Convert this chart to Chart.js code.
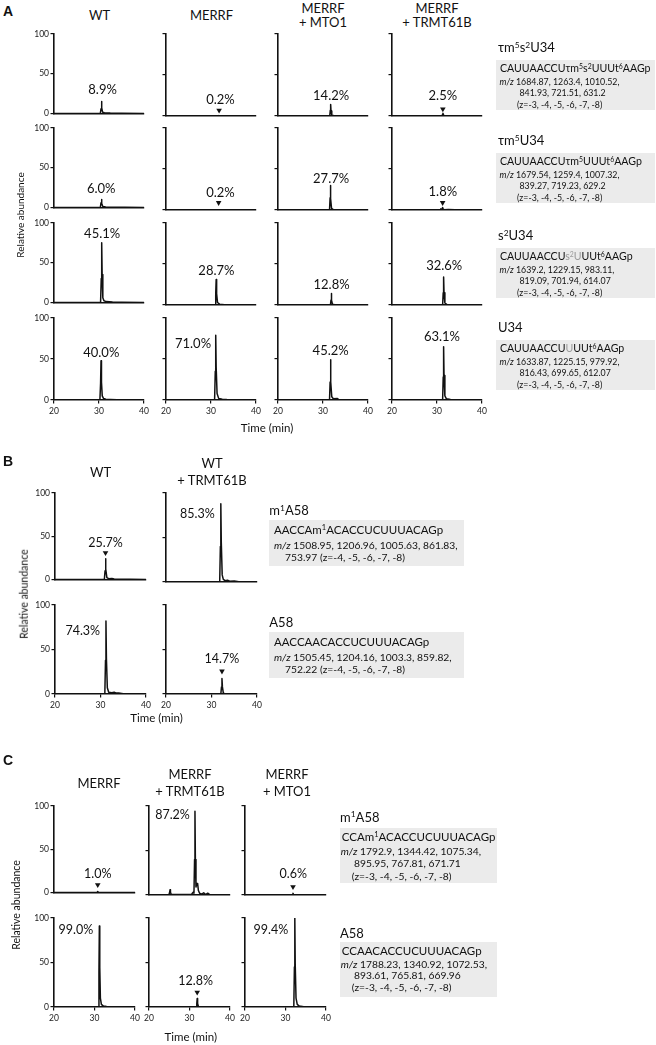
<!DOCTYPE html>
<html><head><meta charset="utf-8">
<script src="https://cdn.jsdelivr.net/npm/chart.js@4.4.1/dist/chart.umd.min.js"></script>
<style>
html,body{margin:0;padding:0;background:#fff;}
body{width:656px;height:1045px;position:relative;overflow:hidden;font-family:Lato,'Open Sans',sans-serif;color:#111;}
.t{position:absolute;white-space:nowrap;line-height:1;}
.box{position:absolute;background:#ebebeb;}
.s{font-size:65%;position:relative;top:-0.5em;}
.g{color:#9a9a9a;}
canvas{position:absolute;}
</style></head><body>
<script>
// ---------- shared axis values ----------
const timeTicks = [20, 30, 40];
const abundanceTicks = [0, 50, 100];

// ---------- Panel A data (time min, relative abundance) ----------
const A_columns = [['WT'], ['MERRF'], ['MERRF', '+ MTO1'], ['MERRF', '+ TRMT61B']];
const A_species = ['τm<span class="s">5</span>s<span class="s">2</span>U34', 'τm<span class="s">5</span>U34', 's<span class="s">2</span>U34', 'U34'];
const A_sequences = [
  'CAUUAACCUτm<span class="s">5</span>s<span class="s">2</span>UUUt<span class="s">6</span>AAGp',
  'CAUUAACCUτm<span class="s">5</span>UUUt<span class="s">6</span>AAGp',
  'CAUUAACCU<span class="g">s<span class="s">2</span>U</span>UUt<span class="s">6</span>AAGp',
  'CAUUAACCU<span class="g">U</span>UUt<span class="s">6</span>AAGp'
];
const A_mz = [
  ['1684.87, 1263.4, 1010.52,', '841.93, 721.51, 631.2', '(z=-3, -4, -5, -6, -7, -8)'],
  ['1679.54, 1259.4, 1007.32,', '839.27, 719.23, 629.2', '(z=-3, -4, -5, -6, -7, -8)'],
  ['1639.2, 1229.15, 983.11,', '819.09, 701.94, 614.07', '(z=-3, -4, -5, -6, -7, -8)'],
  ['1633.87, 1225.15, 979.92,', '816.43, 699.65, 612.07', '(z=-3, -4, -5, -6, -7, -8)']
];
const A_percent = [
  ['8.9%', '0.2%', '14.2%', '2.5%'],
  ['6.0%', '0.2%', '27.7%', '1.8%'],
  ['45.1%', '28.7%', '12.8%', '32.6%'],
  ['40.0%', '71.0%', '45.2%', '63.1%']
];
const a_tm5s2U34_WT = [[20,0],[30.3,0],[30.45,6],[30.55,15],[30.65,7],[30.8,1.5],[31.2,0.8],[32.5,0.4],[35,0.3],[40,0]];
const a_tm5s2U34_MERRF = [[20,0],[31.5,0],[31.7,0.5],[31.9,0],[40,0]];
const a_tm5s2U34_MTO1 = [[20,0],[31.5,0],[31.62,7],[31.7,14],[31.78,6],[31.95,1],[32.5,0.4],[40,0]];
const a_tm5s2U34_TRMT61B = [[20,0],[31.1,0],[31.25,2],[31.32,3.5],[31.42,1.5],[31.6,0.3],[40,0]];
const a_tm5U34_WT = [[20,0],[30.3,0],[30.45,6],[30.55,10],[30.65,5],[30.85,1],[31.5,0.5],[40,0]];
const a_tm5U34_MERRF = [[20,0],[31.5,0],[31.7,0.4],[31.9,0],[40,0]];
const a_tm5U34_MTO1 = [[20,0],[31.45,0],[31.58,15],[31.65,30],[31.72,14],[31.9,2],[32.3,0.6],[40,0]];
const a_tm5U34_TRMT61B = [[20,0],[30.7,0],[30.85,1.5],[30.95,0.5],[31.1,1],[31.25,3],[31.38,1],[31.6,0.3],[32.5,0.5],[34,0.2],[40,0]];
const a_s2U34_WT = [[20,0],[30.35,0],[30.5,30],[30.6,75],[30.7,35],[30.85,6],[31.1,2],[31.6,1],[33,0.5],[35,0.3],[40,0]];
const a_s2U34_MERRF = [[20,0],[30.9,0],[31.05,14],[31.15,31],[31.25,14],[31.45,3],[31.9,1],[33,0.4],[40,0]];
const a_s2U34_MTO1 = [[20,0],[31.65,0],[31.78,6],[31.85,14],[31.93,6],[32.1,1],[32.6,0.3],[40,0]];
const a_s2U34_TRMT61B = [[20,0],[31.25,0],[31.38,15],[31.47,34],[31.56,15],[31.75,2.5],[32.2,0.6],[40,0]];
const a_U34_WT = [[20,0],[30.2,0],[30.35,20],[30.45,48],[30.55,22],[30.72,5],[31,2],[31.5,1],[32.5,0.7],[34,0.4],[40,0]];
const a_U34_MERRF = [[20,0],[30.8,0],[30.95,35],[31.05,79],[31.15,40],[31.35,8],[31.7,2],[32.5,1],[33.5,0.5],[40,0]];
const a_U34_MTO1 = [[20,0],[31.45,0],[31.58,22],[31.67,49],[31.76,22],[31.95,4],[32.3,1.5],[33.2,1.8],[33.5,0.5],[40,0]];
const a_U34_TRMT61B = [[20,0],[31.25,0],[31.38,28],[31.47,65],[31.56,30],[31.75,5],[32.1,1.5],[33,0.6],[40,0]];
const A_traces = [
  [a_tm5s2U34_WT, a_tm5s2U34_MERRF, a_tm5s2U34_MTO1, a_tm5s2U34_TRMT61B],
  [a_tm5U34_WT, a_tm5U34_MERRF, a_tm5U34_MTO1, a_tm5U34_TRMT61B],
  [a_s2U34_WT, a_s2U34_MERRF, a_s2U34_MTO1, a_s2U34_TRMT61B],
  [a_U34_WT, a_U34_MERRF, a_U34_MTO1, a_U34_TRMT61B]
];
// marked (arrowhead) peaks: [row, col, time, abundance]
const A_marked = [[0,1,31.8,3],[0,3,31.3,4.5],[1,1,31.7,5],[1,3,31.25,5]];

// ---------- Panel B data ----------
const B_columns = [['WT'], ['WT', '+ TRMT61B']];
const B_species = ['m<span class="s">1</span>A58', 'A58'];
const B_sequences = ['AACCAm<span class="s">1</span>ACACCUCUUUACAGp', 'AACCAACACCUCUUUACAGp'];
const B_mz = [
  ['1508.95, 1206.96, 1005.63, 861.83,', '753.97 (z=-4, -5, -6, -7, -8)'],
  ['1505.45, 1204.16, 1003.3, 859.82,', '752.22 (z=-4, -5, -6, -7, -8)']
];
const B_percent = [['25.7%', '85.3%'], ['74.3%', '14.7%']];
const b_m1A58_WT = [[20,0],[30.85,0],[31.0,10],[31.1,24],[31.2,12],[31.4,2],[31.8,0.8],[32.5,1],[33,0.4],[40,0]];
const b_m1A58_TRMT61B = [[20,0],[31.8,0],[31.95,40],[32.05,88],[32.15,45],[32.35,8],[32.6,3],[33,1.5],[33.5,2],[34,0.8],[35,1],[36,0.3],[40,0]];
const b_A58_WT = [[20,0],[30.95,0],[31.1,38],[31.2,82],[31.3,40],[31.5,7],[31.8,2],[32.5,1.5],[33,2],[33.5,1],[34,1.2],[35,0.4],[40,0]];
const b_A58_TRMT61B = [[20,0],[32.05,0],[32.2,8],[32.3,17.5],[32.4,8],[32.6,1],[33,0.4],[40,0]];
const B_traces = [[b_m1A58_WT, b_m1A58_TRMT61B], [b_A58_WT, b_A58_TRMT61B]];
const B_marked = [[0,0,31.1,27],[1,1,32.3,22]];

// ---------- Panel C data ----------
const C_columns = [['MERRF'], ['MERRF', '+ TRMT61B'], ['MERRF', '+ MTO1']];
const C_species = ['m<span class="s">1</span>A58', 'A58'];
const C_sequences = ['CCAm<span class="s">1</span>ACACCUCUUUACAGp', 'CCAACACCUCUUUACAGp'];
const C_mz = [
  ['1792.9, 1344.42, 1075.34,', '895.95, 767.81, 671.71', '(z=-3, -4, -5, -6, -7, -8)'],
  ['1788.23, 1340.92, 1072.53,', '893.61, 765.81, 669.96', '(z=-3, -4, -5, -6, -7, -8)']
];
const C_percent = [['1.0%', '87.2%', '0.6%'], ['99.0%', '12.8%', '99.4%']];
const c_m1A58_MERRF = [[20,0],[30.6,0],[30.8,1],[31,0],[40,0]];
const c_m1A58_TRMT61B = [[20,0],[24.9,0],[25.1,3],[25.2,6],[25.3,3],[25.5,0.5],[30.5,0.5],[30.7,2],[30.9,3],[31.1,2],[31.25,40],[31.35,94],[31.45,40],[31.6,9],[31.8,13],[32.0,13],[32.2,5],[32.5,2],[33,1],[33.5,2.5],[34,0.5],[34.5,2],[35,0.5],[40,0]];
const c_m1A58_MTO1 = [[20,0],[31.7,0],[31.85,2],[32,0.5],[32.2,0],[40,0]];
const c_A58_MERRF = [[20,0],[30.95,0],[31.1,40],[31.2,91],[31.3,45],[31.45,10],[31.7,3],[32.2,1],[33,0.5],[40,0]];
const c_A58_TRMT61B = [[20,0],[31.65,0],[31.8,4],[31.9,9.5],[32.0,4],[32.2,0.6],[40,0]];
const c_A58_MTO1 = [[20,0],[32.05,0],[32.2,45],[32.3,100],[32.4,48],[32.6,10],[32.9,3],[33.4,1],[34.5,0.4],[40,0]];
const C_traces = [[c_m1A58_MERRF, c_m1A58_TRMT61B, c_m1A58_MTO1], [c_A58_MERRF, c_A58_TRMT61B, c_A58_MTO1]];
const C_marked = [[0,0,30.8,5],[0,2,31.85,5.5],[1,1,31.9,13]];

// ---------- layout (positions / styles) ----------
const layoutA = {cols:[54,166,278,392], w:90, tops:[34,128,223,318], h:82, pctSize:13,
  labelPos:[[[30.8,30],[32.1,20],[31.8,25],[31.3,25]],[[30.5,24],[32.1,21],[31.8,38],[31.3,22]],[[30.7,86],[31.2,42],[31.9,25],[31.6,48]],[[30.5,58],[26.0,68],[31.7,60],[31.1,77]]]};
const layoutB = {cols:[55,166],w:91,tops:[493,605],h:89,pctSize:12.5,
  labelPos:[[[31.1,42],[26.9,76.5]],[[26.1,71],[32.3,39]]]};
const layoutC = {cols:[54,149,245],w:81,tops:[806,918],h:89,pctSize:12.5,
  labelPos:[[[30.8,21],[25.8,90],[31.9,24]],[[25.4,86],[31.5,29],[26.4,86.6]]]};

Chart.defaults.font.family = "Lato, 'Open Sans', sans-serif";
Chart.defaults.color = '#111';

const markPlugin = {
  id: 'marks',
  afterDatasetsDraw(chart, args, opts) {
    const ctx = chart.ctx, xs = chart.scales.x, ys = chart.scales.y;
    ctx.save();
    ctx.fillStyle = '#111';
    (opts.arrows || []).forEach(([t, a]) => {
      const px = xs.getPixelForValue(t), py = ys.getPixelForValue(a);
      ctx.beginPath(); ctx.moveTo(px, py); ctx.lineTo(px - 2.8, py - 4.8); ctx.lineTo(px + 2.8, py - 4.8); ctx.closePath(); ctx.fill();
    });
    if (opts.text) {
      ctx.font = opts.size + "px Lato, 'Open Sans', sans-serif";
      ctx.textAlign = 'center'; ctx.textBaseline = 'middle';
      ctx.fillStyle = '#111';
      ctx.fillText(opts.text, xs.getPixelForValue(opts.pos[0]), ys.getPixelForValue(opts.pos[1]));
    }
    ctx.restore();
  }
};

function makeChart(x0, yT, w, h, pts, o) {
  const padL = 26, padR = 12, padT = 10, padB = o.xLabels ? 24 : 4;
  const cv = document.createElement('canvas');
  const W = w + padL + padR, H = h + padT + padB;
  cv.width = W; cv.height = H; cv.style.width = W + 'px'; cv.style.height = H + 'px';
  cv.style.left = (x0 - padL) + 'px'; cv.style.top = (yT - padT) + 'px';
  document.body.appendChild(cv);
  new Chart(cv, {
    type: 'line',
    data: {datasets: [{data: pts.map(p => ({x: p[0], y: p[1]})), borderColor: '#111', borderWidth: 1.5, pointRadius: 0, tension: 0, fill: false, borderJoinStyle: 'round'}]},
    options: {
      responsive: false, animation: false, events: [],
      layout: {padding: {top: padT, right: padR, left: 0, bottom: 0}},
      plugins: {legend: {display: false}, tooltip: {enabled: false},
        marks: {text: o.text, pos: o.pos, size: o.size, arrows: o.arrows}},
      scales: {
        x: {type: 'linear', min: timeTicks[0], max: timeTicks[timeTicks.length - 1],
          afterFit: s => { s.height = padB; },
          afterBuildTicks: s => { s.ticks = timeTicks.map(v => ({value: v})); },
          ticks: {display: !!o.xLabels, font: {size: 8.5}, color: '#222', padding: 3, maxRotation: 0, autoSkip: false},
          grid: {display: true, drawOnChartArea: false, drawTicks: !!o.xLabels, tickLength: 3.5, color: '#111', lineWidth: 1.2},
          border: {display: true, color: '#111', width: 1.6}},
        y: {type: 'linear', min: abundanceTicks[0], max: abundanceTicks[abundanceTicks.length - 1],
          afterFit: s => { s.width = padL; },
          afterBuildTicks: s => { s.ticks = abundanceTicks.map(v => ({value: v})); },
          ticks: {display: !!o.yLabels, font: {size: 8.5}, color: '#222', padding: 1.5},
          grid: {display: true, drawOnChartArea: false, drawTicks: true, tickLength: 3.5, color: '#111', lineWidth: 1.2},
          border: {display: true, color: '#111', width: 1.6}}
      }
    },
    plugins: [markPlugin]
  });
}

function txt(html, x, y, size, align, extra) {
  const d = document.createElement('div');
  d.className = 't'; d.innerHTML = html;
  d.style.left = x + 'px'; d.style.top = y + 'px'; d.style.fontSize = size + 'px';
  d.style.transform = align === 'c' ? 'translate(-50%,-50%)' : 'translate(0,-50%)';
  if (extra) Object.assign(d.style, extra);
  document.body.appendChild(d);
  return d;
}
function box(x1, y1, x2, y2) {
  const d = document.createElement('div'); d.className = 'box';
  d.style.left = x1 + 'px'; d.style.top = y1 + 'px'; d.style.width = (x2 - x1) + 'px'; d.style.height = (y2 - y1) + 'px';
  document.body.appendChild(d);
}

function panel(L, traces, percent, marked) {
  traces.forEach((row, r) => row.forEach((pts, c) => {
    const arrows = marked.filter(m => m[0] === r && m[1] === c).map(m => [m[2], m[3]]);
    makeChart(L.cols[c], L.tops[r], L.w, L.h, pts, {
      xLabels: r === traces.length - 1, yLabels: c === 0,
      text: percent[r][c], pos: L.labelPos[r][c], size: L.pctSize, arrows
    });
  }));
}

// ---------- boxes behind text ----------
const A_rowsY = [47, 140, 235, 327];
A_rowsY.forEach(L => box(496, L + 13, 655, L + 63));
const B_rowsY = [510, 621.7];
B_rowsY.forEach(L => box(269, L + 10, 464, L + 56));
const C_rowsY = [816.7, 932.7];
box(339.5, 828, 497, 883); box(339.5, 941.7, 497, 996.7);

const boldLetter = {fontFamily: "'Liberation Sans',Arial,sans-serif", fontWeight: 'bold'};
const rot = {transform: 'translate(-50%,-50%) rotate(-90deg)'};

// ---------- Panel A ----------
txt('A', 3, 11, 14, 'l', boldLetter);
const A_hx = [99.5, 211.5, 323, 437];
A_columns.forEach((lines, i) => {
  if (lines.length === 1) txt(lines[0], A_hx[i], 14.5, 13, 'c');
  else { txt(lines[0], A_hx[i], 7.5, 13, 'c'); txt(lines[1], A_hx[i], 22, 13, 'c'); }
});
panel(layoutA, A_traces, A_percent, A_marked);
txt('Relative abundance', 20, 215, 10, 'c', rot);
txt('Time (min)', 267, 427.5, 11.5, 'c');
A_rowsY.forEach((L, r) => {
  txt(A_species[r], 498, L, 13, 'l');
  txt(A_sequences[r], 500, L + 21.3, 10.6, 'l');
  txt('<i>m/z</i> ' + A_mz[r][0], 499.5, L + 34.7, 8.8, 'l');
  txt(A_mz[r][1], 519.5, L + 46.3, 8.8, 'l');
  txt(A_mz[r][2], 517, L + 58, 8.8, 'l');
});

// ---------- Panel B ----------
txt('B', 3, 460.5, 14, 'l', boldLetter);
const B_hx = [100.5, 212];
B_columns.forEach((lines, i) => {
  if (lines.length === 1) txt(lines[0], B_hx[i], 471.7, 13, 'c');
  else { txt(lines[0], B_hx[i], 463.3, 13, 'c'); txt(lines[1], B_hx[i], 480, 13, 'c'); }
});
panel(layoutB, B_traces, B_percent, B_marked);
txt('Relative abundance', 23.5, 594, 10.5, 'c', rot);
txt('Time (min)', 156.5, 718.3, 11.5, 'c');
B_rowsY.forEach((L, r) => {
  txt(B_species[r], 269.3, L, 13, 'l');
  txt(B_sequences[r], 274, L + 20, 11.5, 'l');
  txt('<i>m/z</i> ' + B_mz[r][0], 274, L + 35.3, 10.3, 'l');
  txt(B_mz[r][1], 285, L + 47.2, 10.3, 'l');
});

// ---------- Panel C ----------
txt('C', 3, 759.5, 14, 'l', boldLetter);
const C_hx = [99, 190, 287];
C_columns.forEach((lines, i) => {
  if (lines.length === 1) txt(lines[0], C_hx[i], 782.7, 13, 'c');
  else { txt(lines[0], C_hx[i], 774, 13, 'c'); txt(lines[1], C_hx[i], 790.7, 13, 'c'); }
});
panel(layoutC, C_traces, C_percent, C_marked);
txt('Relative abundance', 15.5, 905, 10.5, 'c', rot);
txt('Time (min)', 190.8, 1036.7, 11.5, 'c');
const C_lines = [[836.7, 850.7, 862.7, 876], [950.7, 964, 975.3, 987.3]];
C_rowsY.forEach((L, r) => {
  txt(C_species[r], 340, L, 13, 'l');
  txt(C_sequences[r], 341.7, C_lines[r][0], 11.5, 'l');
  txt('<i>m/z</i> ' + C_mz[r][0], 340.7, C_lines[r][1], 10.3, 'l');
  txt(C_mz[r][1], 354, C_lines[r][2], 10.3, 'l');
  txt(C_mz[r][2], 351.7, C_lines[r][3], 10.3, 'l');
});
</script>
</body></html>
